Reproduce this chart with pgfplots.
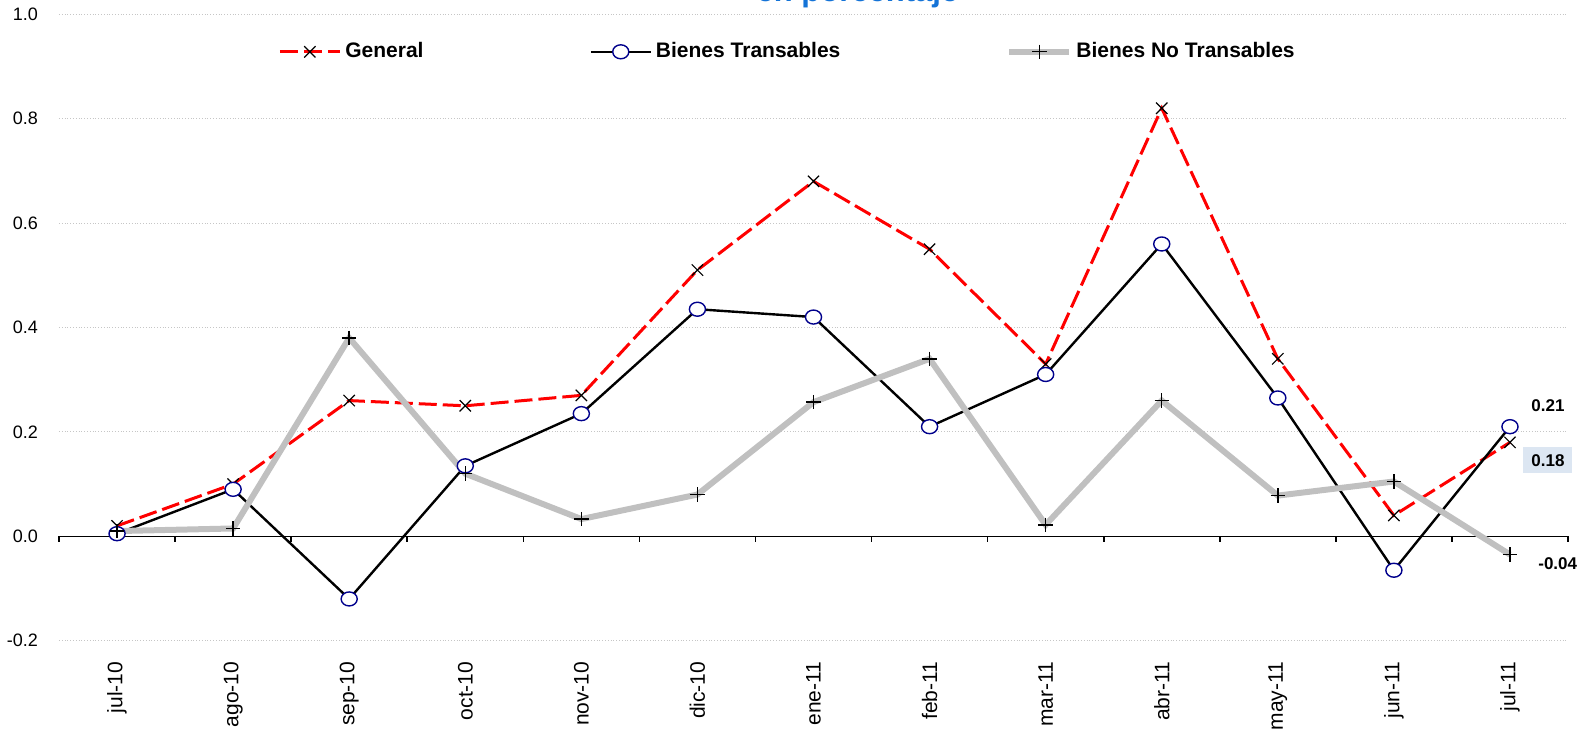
\documentclass[border=0pt]{standalone}
\usepackage{pgfplots}
\pgfplotsset{compat=1.18}
\usepackage{fontspec}
\setmainfont{Liberation Sans}
\definecolor{tgray}{RGB}{192,192,192}
\definecolor{navyc}{RGB}{0,0,140}
\definecolor{lblbox}{RGB}{220,230,242}
\definecolor{titblue}{RGB}{20,115,215}
\begin{document}
\begin{tikzpicture}
\begin{axis}[
  width=754.5pt, height=313.2pt, scale only axis,
  xmin=-0.5, xmax=12.5, ymin=-0.2, ymax=1.0,
  axis line style={draw=none},
  tick style={draw=none},
  xtick={0,...,12},
  xticklabels={jul-10,ago-10,sep-10,oct-10,nov-10,dic-10,ene-11,feb-11,mar-11,abr-11,may-11,jun-11,jul-11},
  xticklabel style={rotate=90, anchor=east, font=\fontsize{10.5}{12}\selectfont, xshift=-7pt},
  ytick={-0.2,0,0.2,0.4,0.6,0.8,1.0},
  yticklabel style={font=\fontsize{9}{10}\selectfont, xshift=-7pt,
    /pgf/number format/fixed, /pgf/number format/fixed zerofill, /pgf/number format/precision=1,
    /pgf/number format/assume math mode=true},
  ymajorgrids, major grid style={densely dotted, line width=0.5pt, gray!45},
  clip=false,
  legend style={draw=none, at={(0.5,1.0)}, anchor=north, yshift=-10pt, xshift=-12.5pt,
    legend columns=3, column sep=0pt,
    font=\fontsize{10.5}{12}\selectfont\bfseries,
    /tikz/every even column/.append style={column sep=81pt}},
  legend image code/.code={\draw[mark repeat=2,mark phase=2,#1] plot coordinates {(0pt,0pt) (15pt,0pt) (30pt,0pt)};},
]
\draw[black, line width=0.8pt] (axis cs:-0.5,0) -- (axis cs:12.5,0);
\pgfplotsinvokeforeach{-0.5,0.5,1.5,2.5,3.5,4.5,5.5,6.5,7.5,8.5,9.5,10.5,11.5,12.5}{\draw[black, line width=0.8pt] (axis cs:#1,0) -- ([yshift=-3pt]axis cs:#1,0);}
\addplot[red, line width=1.5pt, dash pattern=on 9pt off 3pt,
  mark=x, mark size=4pt, mark options={solid, black, line width=0.6pt}]
  coordinates {(0,0.02) (1,0.10) (2,0.26) (3,0.25) (4,0.27) (5,0.51) (6,0.68) (7,0.55) (8,0.33) (9,0.82) (10,0.34) (11,0.04) (12,0.18)};
\addlegendentry{General}
\addplot[black, line width=1.2pt,
  mark=*, mark size=3.5pt, mark options={draw=navyc, fill=white, line width=0.7pt, xscale=1.15}]
  coordinates {(0,0.005) (1,0.09) (2,-0.12) (3,0.135) (4,0.235) (5,0.435) (6,0.42) (7,0.21) (8,0.31) (9,0.56) (10,0.265) (11,-0.065) (12,0.21)};
\addlegendentry{Bienes Transables}
\addplot[tgray, line width=3pt,
  mark=+, mark size=3.6pt, mark options={black, line width=0.7pt}]
  coordinates {(0,0.01) (1,0.015) (2,0.38) (3,0.12) (4,0.033) (5,0.08) (6,0.257) (7,0.34) (8,0.022) (9,0.26) (10,0.078) (11,0.105) (12,-0.035)};
\addlegendentry{Bienes No Transables}
\node[anchor=west, font=\fontsize{8.5}{10}\selectfont\bfseries, inner sep=0pt] at ([xshift=10.5pt,yshift=10.5pt]axis cs:12,0.21) {0.21};
\node[anchor=west, font=\fontsize{8.5}{10}\selectfont\bfseries, fill=lblbox, inner xsep=4pt, inner ysep=3.5pt] at ([xshift=6.5pt,yshift=-9pt]axis cs:12,0.18) {0.18};
\node[anchor=west, font=\fontsize{8.5}{10}\selectfont\bfseries, inner sep=0pt] at ([xshift=14pt,yshift=-4.5pt]axis cs:12,-0.035) {-0.04};
\end{axis}
\node[anchor=base, text=titblue, font=\fontsize{15.5}{18}\selectfont\bfseries] at ([xshift=22pt,yshift=6.15pt]current axis.north) {en porcentaje};
\pgfresetboundingbox
\path[use as bounding box] ([xshift=-29.5pt,yshift=-48.65pt]current axis.south west) rectangle ([xshift=9.5pt,yshift=7.15pt]current axis.north east);
\end{tikzpicture}
\end{document}
